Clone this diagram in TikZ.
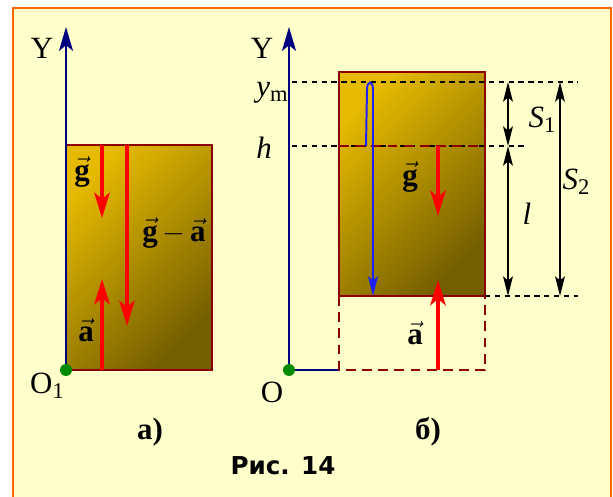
\documentclass[tikz,border=0pt]{standalone}
\usepackage{fontspec}
\setmainfont{Liberation Serif}
\newfontfamily\capfont{DejaVu Sans}
\usetikzlibrary{arrows.meta}
\definecolor{paper}{HTML}{FFFFCC}
\definecolor{framecol}{HTML}{FF6A00}
\definecolor{axiscol}{HTML}{000080}
\definecolor{bodytop}{HTML}{E6BA00}
\definecolor{bodybot}{HTML}{735E00}
\definecolor{edgecol}{HTML}{8B0000}
\definecolor{dotcol}{HTML}{008A00}
\definecolor{pathcol}{HTML}{2020FF}
\definecolor{veccol}{HTML}{FF0000}
\newcommand\lowsub[1]{\raisebox{-0.35ex}{\fontsize{16}{16}\selectfont #1}}
\newcommand\vv[1]{$\vec{\textbf{#1}}$}
\tikzset{
  axisline/.style={draw=axiscol, line width=1.4pt},
  axisarrow/.style={axisline, -{Stealth[length=17pt, width=10pt, inset=4pt]}},
  vecarrow/.style={draw=veccol, line width=2.6pt, -{Stealth[length=18pt, width=11pt, inset=4.5pt]}},
  dimarrow/.style={draw=black, line width=1.1pt, {Stealth[length=14pt, width=7pt, inset=3pt]}-{Stealth[length=14pt, width=7pt, inset=3pt]}},
  guide/.style={draw=black, line width=0.9pt, dash pattern=on 3.8pt off 3.2pt},
  hidden/.style={draw=edgecol, line width=1.5pt, dash pattern=on 7pt off 4.5pt},
  body/.style={draw=edgecol, line width=1.5pt, top color=bodytop, bottom color=bodybot, shading angle=45},
  odot/.style={circle, fill=dotcol, inner sep=0pt, minimum size=8.5pt},
  lbl/.style={inner sep=0pt},
}

\begin{document}
\begin{tikzpicture}[x=0.025cm, y=-0.025cm, font=\fontsize{22}{26}\selectfont]
  \useasboundingbox (0,0) rectangle (613,497);
  \clip (0,0) rectangle (613,497);
  % frame
  \draw[framecol, line width=1.6pt, fill=paper] (13,8) rectangle (611,540);

  % ---- a) ----
  \draw[body] (66,145) rectangle (212,370);
  \coordinate (O1) at (66,370);
  \coordinate (Y1) at (66,27);
  \draw[axisarrow] (O1) -- (Y1);
  \node[odot] (dot1) at (O1) {};
  \node[lbl] (ylab1) at (42,48) {Y};
  \node[lbl] (olab1) at (47,386) {O\lowsub{1}};
  % vectors
  \coordinate (g1s) at (102,145);
  \coordinate (g1e) at (102,218);
  \coordinate (ga1s) at (127,145);
  \coordinate (ga1e) at (127,326);
  \coordinate (a1s) at (102,370);
  \coordinate (a1e) at (102,279);
  \draw[vecarrow] (g1s) -- (g1e);
  \draw[vecarrow] (ga1s) -- (ga1e);
  \draw[vecarrow] (a1s) -- (a1e);
  \node[lbl] (glab1) at (82,172) {\bfseries\vv{g}};
  \node[lbl] (galab1) at (174,233) {\bfseries\vv{g}$\,-\,$\vv{a}};
  \node[lbl] (alab1) at (86,330) {\bfseries\vv{a}};
  \node[lbl] (cap1) at (150,432) {\bfseries а)};

  % ---- b) ----
  \draw[body] (339,72) rectangle (485,296);
  \coordinate (O2) at (289,370);
  \coordinate (Y2) at (289,27);
  \coordinate (base) at (339,370);
  \draw[axisarrow] (O2) -- (Y2);
  \draw[axisline] (O2) -- (base);
  \node[odot] (dot2) at (O2) {};
  \node[lbl] (ylab2) at (262,48) {Y};
  \node[lbl] (olab2) at (272,392) {O};
  % levels
  \coordinate (ymL) at (292,82);
  \coordinate (ymR) at (578,82);
  \coordinate (hL) at (292,146);
  \coordinate (hR) at (525,146);
  \coordinate (hA) at (339,146);
  \coordinate (hB) at (485,146);
  \coordinate (bL) at (485,296);
  \coordinate (bR) at (578,296);
  \draw[guide] (ymL) -- (ymR);
  \draw[guide] (hL) -- (hR);
  \draw[hidden] (hA) -- (hB);
  \draw[guide] (bL) -- (bR);
  \draw[hidden] (339,296) -- (base) -- (485,370) -- (bL);
  \node[lbl] (ymlab) at (272,93) {\textit{y}\lowsub{m}};
  \node[lbl] (hlab) at (264,148) {\textit{h}};
  % path of the point
  \coordinate (p0) at (366,146);
  \coordinate (p1) at (373,296);
  \draw[draw=pathcol, line width=1.4pt, -{Stealth[length=14pt, width=7pt, inset=3pt]}]
    (p0) -- (367,90) .. controls (367,80) and (373,80) .. (373,90) -- (p1);
  % vectors
  \coordinate (g2s) at (438,146);
  \coordinate (g2e) at (438,216);
  \coordinate (a2s) at (438,370);
  \coordinate (a2e) at (438,280);
  \draw[vecarrow] (g2s) -- (g2e);
  \draw[vecarrow] (a2s) -- (a2e);
  \node[lbl] (glab2) at (410,177) {\bfseries\vv{g}};
  \node[lbl] (alab2) at (415,333) {\bfseries\vv{a}};
  % distances
  \coordinate (s1t) at (508,82);
  \coordinate (s1b) at (508,146);
  \coordinate (lb) at (508,296);
  \coordinate (s2t) at (560,82);
  \coordinate (s2b) at (560,296);
  \draw[dimarrow] (s1t) -- (s1b);
  \draw[dimarrow] (s1b) -- (lb);
  \draw[dimarrow] (s2t) -- (s2b);
  \node[lbl] (s1lab) at (542,120) {\textit{S}\lowsub{1}};
  \node[lbl] (llab) at (527,214) {\textit{l}};
  \node[lbl] (s2lab) at (576,182) {\textit{S}\lowsub{2}};
  \node[lbl] (cap2) at (428,432) {\bfseries б)};
  \node[lbl] (title) at (283,466) {\capfont\bfseries\fontsize{17.5}{20}\selectfont Рис. 14};
\end{tikzpicture}
\end{document}
